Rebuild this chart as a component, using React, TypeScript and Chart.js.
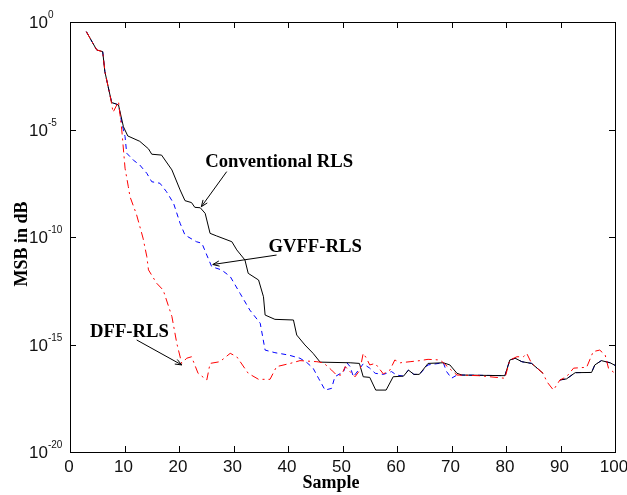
import React, { useEffect, useRef } from "react";
import { Chart, registerables } from "chart.js";

Chart.register(...registerables);

// Sample index and log10(MSB)
const convSample = [3,4.9,6,6.4,7.2,7.65,8.3,8.9,9.8,10.6,12.8,14.4,15,16.8,18.7,20.2,21.1,22.3,22.9,23.9,24.8,25.7,26.9,29.7,30.6,32.1,32.7,34.6,35.5,35.8,37.6,41,41.6,43.1,44.6,45.9,51.4,53.1,53.8,55,56.1,58,59.3,61.2,62.1,63.1,64.1,65.7,68.5,69.7,71,71.9,79.8,80.7,81.7,82.9,84.7,86.8,88,89.9,91.1,92.7,95.7,96.3,97.5,99.1,100];
const convLog = [-0.45,-1.3,-1.38,-2.31,-3.24,-3.75,-3.8,-3.86,-4.87,-5.3,-5.55,-5.9,-6.15,-6.19,-6.88,-7.81,-8.31,-8.4,-8.62,-8.64,-8.9,-9.83,-9.95,-10.22,-10.6,-11.07,-11.69,-12.0,-12.78,-13.63,-13.83,-13.86,-14.56,-15.02,-15.41,-15.82,-15.85,-15.88,-16.5,-16.53,-17.12,-17.12,-16.5,-16.47,-16.19,-16.39,-16.39,-15.88,-15.85,-15.95,-16.34,-16.42,-16.45,-15.72,-15.64,-15.8,-15.88,-16.34,null,-16.65,-16.6,-16.31,-16.3,-15.95,-15.75,-15.85,-15.97];

const gvffSample = [3,4.9,6,6.4,7.2,7.65,8.3,8.9,9.5,10.1,10.4,11.6,12.8,14.1,15,16.5,17.7,19,20.2,21.1,23.2,24.2,25.1,26,27.8,29.4,31.2,33,34.9,35.8,37.6,40.1,42.2,43.5,44.6,45.6,46.8,48,48.6,50.2,50.8,51.4,52,53.8,55,56,57.5,59,59.9,61.2,62.1,63.1,64.1,65.7,68.5,69.1,70,71,71.9,79.8,80.7,81.7,82.9,84.7,86.8,88,89.9,91.1,92.7,95.7,96.3,97.5,99.1,100];
const gvffLog = [-0.45,-1.3,-1.38,-2.31,-3.24,-3.75,-3.8,-3.86,-4.7,-5.33,-6.1,-6.42,-6.65,-7.04,-7.43,-7.5,-7.89,-8.43,-9.36,-9.91,-10.22,-10.29,-10.84,-11.38,-11.53,-11.84,-12.62,-13.4,-14.01,-15.26,-15.38,-15.49,-15.64,-15.85,-16.1,-16.57,-17.12,-17.04,-16.5,-16.26,-15.85,-16.03,-16.5,-15.9,-16.1,-16.34,-16.39,-16.26,-16.42,-16.47,-16.19,-16.39,-16.39,-15.95,-15.85,-16.26,-16.57,-16.42,-16.42,-16.45,-15.72,-15.64,-15.8,-15.88,-16.34,null,-16.65,-16.6,-16.31,-16.3,-15.95,-15.75,-15.85,-15.97];

const dffSample = [3,4.9,6,6.4,7.2,7.6,7.9,8.9,9.5,10.1,10.7,11,12.2,13.4,14.1,14.4,15.9,17.1,17.7,18.7,19.6,20.5,21.4,22.3,23.5,25.1,25.7,27.5,29.4,30.6,32.7,34.6,36.7,37.9,40.4,42.2,45.3,46.5,48,48.9,49.8,50.5,52.3,53.2,53.8,54.4,55,56,57.5,58.7,59.6,60.6,62.4,64.2,65.7,67.9,68.5,70,71,75,79.8,80.7,82,83.2,83.8,84.7,86.8,87.5,88.7,89.9,91.1,92.4,94.8,96,97.2,98.2,98.8,100];
const dffLog = [-0.45,-1.3,-1.38,-2.31,-3.24,-3.75,-4.2,-3.7,-5.02,-6.8,-7.66,-8.12,-8.95,-10.05,-10.92,-11.53,-12.15,-12.47,-12.93,-13.7,-14.95,-15.88,-15.64,-15.57,-16.34,-16.65,-15.88,-15.8,-15.41,-15.57,-16.34,-16.62,-16.62,-16.03,-15.88,-15.75,-15.8,-15.85,-16.19,-16.42,-16.42,-16.03,-16.5,-16.19,-15.41,-15.64,-15.95,-15.88,-16.37,-16.19,-15.72,-15.85,-15.8,-15.75,-15.69,-15.72,-15.85,-16.2,-16.42,-16.45,-16.57,-15.72,-15.57,-15.57,-15.41,-15.88,-16.34,-16.73,-17.12,-16.65,-16.5,-16.1,-16.06,-15.33,-15.26,-15.49,-16.1,-16.34];

const xTickValues = [0,10,20,30,40,50,60,70,80,90,100];
const yTickExponents = [0,-5,-10,-15,-20];

const seriesNames = ["Conventional RLS", "GVFF-RLS", "DFF-RLS"];
// annotation text anchors and arrows, in data units (sample, log10 value)
const labelX = [24.8, 36.4, 3.67];
const labelLog = [-6.74, -10.68, -14.64];
const arrowFromX = [28.75, 37.9, 12.24];
const arrowFromLog = [-6.96, -10.84, -14.79];
const arrowToX = [24.1, 26.2, 20.5];
const arrowToLog = [-8.59, -11.28, -15.95];

const toPoints = (xs: number[], logs: (number | null)[]) =>
  xs.map((x, i) => ({ x, y: logs[i] === null ? null : Math.pow(10, logs[i] as number) }));

const SANS = '"Liberation Sans", Arial, sans-serif';
const SERIF = '"Liberation Serif", "Times New Roman", serif';

const framePlugin = {
  id: "matlabFrame",
  afterDraw(chart: any) {
    const ctx = chart.ctx as CanvasRenderingContext2D;
    const { left, right, top, bottom } = chart.chartArea;
    const xs = chart.scales.x;
    const ys = chart.scales.y;
    ctx.save();
    ctx.strokeStyle = "#000";
    ctx.lineWidth = 1;
    ctx.strokeRect(Math.round(left) + 0.5, Math.round(top) + 0.5, Math.round(right - left), Math.round(bottom - top));
    const tl = 6;
    ctx.beginPath();
    xTickValues.forEach((v) => {
      const px = Math.round(xs.getPixelForValue(v)) + 0.5;
      ctx.moveTo(px, bottom);
      ctx.lineTo(px, bottom - tl);
      ctx.moveTo(px, top);
      ctx.lineTo(px, top + tl);
    });
    yTickExponents.forEach((e) => {
      const py = Math.round(ys.getPixelForValue(Math.pow(10, e))) + 0.5;
      ctx.moveTo(left, py);
      ctx.lineTo(left + tl, py);
      ctx.moveTo(right, py);
      ctx.lineTo(right - tl, py);
    });
    ctx.stroke();

    // tick labels
    ctx.fillStyle = "#111";
    ctx.font = `17px ${SANS}`;
    ctx.textAlign = "center";
    ctx.textBaseline = "alphabetic";
    xTickValues.forEach((v) => {
      const px = xs.getPixelForValue(v);
      ctx.fillText(String(v), px - 1, bottom + 20);
    });
    yTickExponents.forEach((e) => {
      const py = ys.getPixelForValue(Math.pow(10, e));
      ctx.font = `17px ${SANS}`;
      ctx.textAlign = "left";
      const bx = left - 41;
      ctx.fillText("10", bx, py + 6.3);
      const w = ctx.measureText("10").width;
      ctx.font = `10px ${SANS}`;
      ctx.fillText(String(e), bx + w, py - 3.8);
    });

    // axis titles
    ctx.fillStyle = "#000";
    ctx.font = `bold 18px ${SERIF}`;
    ctx.textAlign = "center";
    ctx.fillText("Sample", 331, bottom + 36);
    ctx.save();
    ctx.translate(27, (top + bottom) / 2 + 7);
    ctx.rotate(-Math.PI / 2);
    ctx.fillText("MSB in dB", 0, 0);
    ctx.restore();

    // annotations
    ctx.font = `bold 18.7px ${SERIF}`;
    ctx.textAlign = "left";
    seriesNames.forEach((name, i) => {
      const tx = xs.getPixelForValue(labelX[i]);
      const ty = ys.getPixelForValue(Math.pow(10, labelLog[i]));
      ctx.fillText(name, tx, ty);
      const x0 = xs.getPixelForValue(arrowFromX[i]);
      const y0 = ys.getPixelForValue(Math.pow(10, arrowFromLog[i]));
      const x1 = xs.getPixelForValue(arrowToX[i]);
      const y1 = ys.getPixelForValue(Math.pow(10, arrowToLog[i]));
      ctx.beginPath();
      ctx.moveTo(x0, y0);
      ctx.lineTo(x1, y1);
      const ang = Math.atan2(y1 - y0, x1 - x0);
      const hl = 7;
      const spread = 0.38;
      ctx.moveTo(x1, y1);
      ctx.lineTo(x1 - hl * Math.cos(ang - spread), y1 - hl * Math.sin(ang - spread));
      ctx.moveTo(x1, y1);
      ctx.lineTo(x1 - hl * Math.cos(ang + spread), y1 - hl * Math.sin(ang + spread));
      ctx.stroke();
    });
    ctx.restore();
  },
};

export default function App() {
  const ref = useRef<HTMLCanvasElement | null>(null);
  useEffect(() => {
    document.body.style.margin = "0";
    const canvas = ref.current;
    if (!canvas) return;
    const chart = new Chart(canvas, {
      type: "line",
      data: {
        datasets: [
          {
            label: seriesNames[2],
            data: toPoints(dffSample, dffLog),
            borderColor: "#ff0000",
            borderWidth: 1,
            borderDash: [8, 4, 2, 4],
            pointRadius: 0,
            tension: 0,
            spanGaps: false,
            order: 0,
          },
          {
            label: seriesNames[0],
            data: toPoints(convSample, convLog),
            borderColor: "#000000",
            borderWidth: 1,
            pointRadius: 0,
            tension: 0,
            spanGaps: false,
            order: 1,
          },
          {
            label: seriesNames[1],
            data: toPoints(gvffSample, gvffLog),
            borderColor: "#0000ff",
            borderWidth: 1,
            borderDash: [5, 4],
            pointRadius: 0,
            tension: 0,
            spanGaps: false,
            order: 2,
          },
        ],
      },
      options: {
        responsive: false,
        animation: false,
        layout: { padding: { left: 70, right: 12, top: 22, bottom: 43 } },
        plugins: { legend: { display: false }, tooltip: { enabled: false } },
        scales: {
          x: { type: "linear", min: 0, max: 100, display: false },
          y: { type: "logarithmic", min: 1e-20, max: 1, display: false },
        },
      },
      plugins: [framePlugin],
    });
    return () => chart.destroy();
  }, []);
  return (
    <div style={{ width: 627, height: 495, background: "#fff" }}>
      <canvas ref={ref} width={627} height={495} style={{ display: "block" }} />
    </div>
  );
}
